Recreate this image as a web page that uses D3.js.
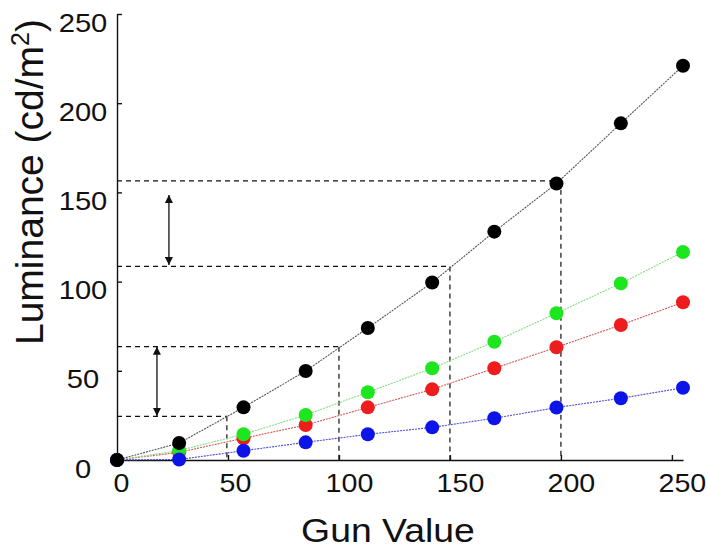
<html>
<head>
<meta charset="utf-8">
<script src="https://cdn.jsdelivr.net/npm/d3@7"></script>
<style>
  body { margin: 0; background: #fff; }
  svg text { font-family: "Liberation Sans", Arial, sans-serif; fill: #111; }
  .axis path, .axis line { stroke: #111; stroke-width: 1.4; }
</style>
</head>
<body>
<script>
// data
var gunValues   = [0, 28, 57, 85, 113, 142, 170, 198, 227, 255];
var lumBlack    = [0, 9.5, 29.5, 49.9, 74, 99.5, 128, 155, 188.7, 221];
var lumGreen    = [0, 5.3, 14.4, 25.2, 38, 51.4, 66.3, 82.3, 99, 116.6];
var lumRed      = [0, 4.3, 12.2, 19.6, 29.5, 39.6, 51.4, 63.2, 75.7, 88.4];
var lumBlue     = [0, 0.3, 5.2, 9.9, 14.4, 18.3, 23.4, 29.4, 34.6, 40.5];
var xTicks      = [0, 50, 100, 150, 200, 250];
var yTicks      = [0, 50, 100, 150, 200, 250];
// dashed guides: gun value -> luminance on the black curve
var guideGun    = [49.5, 100, 150, 200];
var guideLum    = [24.5, 63.5, 108.5, 156.5];
// double arrows: gun position, from / to luminance
var arrowGun    = [18, 23.4];
var arrowFrom   = [24.7, 109.3];
var arrowTo     = [63.5, 148.6];

var w = 707, h = 550;
var x = d3.scaleLinear().domain([0, 255]).range([117, 683]);
var y = d3.scaleLinear().domain([0, 250]).range([460, 14]);

var svg = d3.select("body").append("svg")
  .attr("width", w).attr("height", h);

var defs = svg.append("defs");
defs.append("marker").attr("id", "head")
  .attr("viewBox", "0 0 10 10").attr("refX", 10).attr("refY", 5)
  .attr("markerWidth", 8).attr("markerHeight", 8)
  .attr("markerUnits", "userSpaceOnUse")
  .attr("orient", "auto-start-reverse")
  .append("path").attr("d", "M0,0 L10,5 L0,10 Z").attr("fill", "#111");

/* dashed guides */
var guides = svg.append("g").attr("stroke", "#111").attr("stroke-width", 1.2)
  .attr("stroke-dasharray", "5,4").attr("fill", "none");
guideGun.forEach(function (g, i) {
  guides.append("line")
    .attr("x1", x(0)).attr("x2", x(g))
    .attr("y1", y(guideLum[i])).attr("y2", y(guideLum[i]));
  guides.append("line")
    .attr("x1", x(g)).attr("x2", x(g))
    .attr("y1", y(guideLum[i])).attr("y2", y(0));
});

/* arrows */
arrowGun.forEach(function (g, i) {
  svg.append("line")
    .attr("x1", x(g)).attr("x2", x(g))
    .attr("y1", y(arrowFrom[i])).attr("y2", y(arrowTo[i]))
    .attr("stroke", "#111").attr("stroke-width", 1.3)
    .attr("marker-start", "url(#head)").attr("marker-end", "url(#head)");
});

/* axes */
var xAxis = svg.append("g").attr("class", "axis")
  .attr("transform", "translate(0," + y(0) + ")")
  .call(d3.axisBottom(x).tickValues(xTicks).tickSize(-5).tickSizeOuter(0));
xAxis.selectAll("text")
  .attr("font-size", 26).attr("fill", "#111")
  .attr("dy", null).attr("y", 32)
  .attr("transform", function (d) { return "translate(" + (3 * String(d).length + 1) + ",0) scale(1.1,1)"; });

var yAxis = svg.append("g").attr("class", "axis")
  .attr("transform", "translate(" + x(0) + ",0)")
  .call(d3.axisLeft(y).tickValues(yTicks).tickSize(-5).tickSizeOuter(0));
yAxis.selectAll("text")
  .attr("font-size", 26.5).attr("fill", "#111")
  .attr("text-anchor", "middle")
  .attr("x", 0).attr("dy", null).attr("y", 17)
  .attr("transform", "translate(-34,0) scale(1.1,1)");
svg.selectAll(".axis .domain").attr("stroke", "#111");

/* series */
var series = [
  { vals: lumRed,   dot: "#ee1c1c", line: "#d25a5a" },
  { vals: lumGreen, dot: "#1ee61e", line: "#86dc86" },
  { vals: lumBlue,  dot: "#0d14e8", line: "#4b50d2" },
  { vals: lumBlack, dot: "#000000", line: "#555555" }
];
var line = d3.line()
  .x(function (d, i) { return x(gunValues[i]); })
  .y(function (d) { return y(d); });

series.forEach(function (s) {
  svg.append("path").datum(s.vals)
    .attr("d", line).attr("fill", "none")
    .attr("stroke", s.line).attr("stroke-width", 1.1)
    .attr("stroke-dasharray", "2,1");
});
series.forEach(function (s) {
  svg.append("g").selectAll("circle").data(s.vals).enter()
    .append("circle")
    .attr("cx", function (d, i) { return x(gunValues[i]); })
    .attr("cy", function (d) { return y(d); })
    .attr("r", 7)
    .attr("fill", s.dot);
});

/* titles */
svg.append("text")
  .attr("transform", "translate(388,542) scale(1.15,1)")
  .attr("text-anchor", "middle")
  .attr("font-size", 32.5)
  .text("Gun Value");

var yt = svg.append("text")
  .attr("transform", "translate(43,182) rotate(-90)")
  .attr("text-anchor", "middle")
  .attr("font-size", 39);
yt.append("tspan").text("Luminance (cd/m");
yt.append("tspan").attr("font-size", 25).attr("dy", -14).text("2");
yt.append("tspan").attr("dy", 14).text(")");
</script>
</body>
</html>
